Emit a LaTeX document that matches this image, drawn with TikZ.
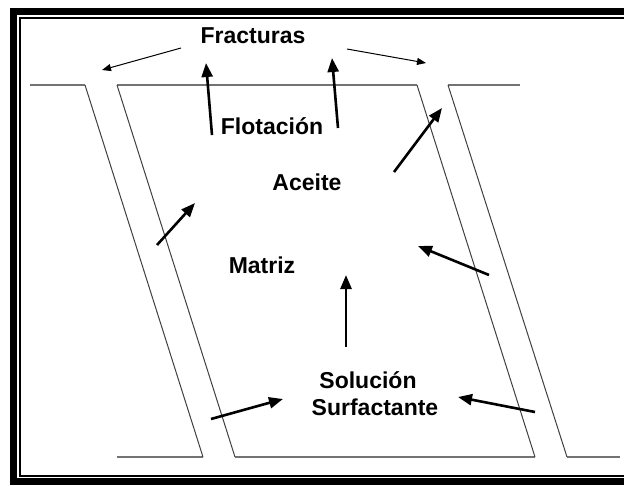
\documentclass[tikz,border=0pt]{standalone}
\usepackage{fontspec}
\setmainfont{Liberation Sans}
\usetikzlibrary{arrows.meta}
\begin{document}
\begin{tikzpicture}[x=1pt,y=-1pt,
  lbl/.style={font=\bfseries\fontsize{23}{27}\selectfont,inner sep=0pt,anchor=base},
  edge/.style={line width=2.6pt,black!55},
  wall/.style={line width=1pt,black!75},
  flow/.style={line width=2.6pt,-{Triangle[length=14pt,width=11pt]}},
  hint/.style={line width=1pt,-{Triangle[length=9pt,width=7pt]}}]
\useasboundingbox (0,0) rectangle (624,485);
% marco
\draw[line width=7.3pt] (640,11.65) -- (13.65,11.65) -- (13.65,481.3) -- (640,481.3);
\draw[line width=2pt] (640,17.8) -- (20,17.8) -- (20,475.8) -- (640,475.8);
% bloque de matriz y fracturas
\draw[edge] (30,85) -- (85,85);
\draw[edge] (117,85) -- (417,85);
\draw[edge] (448,85) -- (520,85);
\draw[edge] (117,457) -- (203,457);
\draw[edge] (235,457) -- (535,457);
\draw[edge] (567,457) -- (620,457);
\draw[wall] (85,85) -- (203,457);
\draw[wall] (117,85) -- (235,457);
\draw[wall] (417,85) -- (535,457);
\draw[wall] (448,85) -- (567,457);
% textos
\node[lbl] (frac) at (253,43.5) {Fracturas};
\node[lbl] (flot) at (272,134.5) {Flotación};
\node[lbl] (aceite) at (307,190.5) {Aceite};
\node[lbl] (matriz) at (262,273.5) {Matriz};
\node[lbl] (sol) at (368,388.5) {Solución};
\node[lbl] (surf) at (375,415.5) {Surfactante};
% extremos de flechas
\coordinate (fl1) at (181,48);  \coordinate (fl2) at (102,70);
\coordinate (fr1) at (347,49);  \coordinate (fr2) at (426,63);
\coordinate (ul1) at (212,135); \coordinate (ul2) at (206,63);
\coordinate (ur1) at (338,128); \coordinate (ur2) at (332,58);
\coordinate (dr1) at (394,172); \coordinate (dr2) at (442,108);
\coordinate (ml1) at (157,245); \coordinate (ml2) at (195,203);
\coordinate (mr1) at (489,275); \coordinate (mr2) at (418,246);
\coordinate (mc1) at (346,347); \coordinate (mc2) at (346,275);
\coordinate (bl1) at (211,419); \coordinate (bl2) at (283,399);
\coordinate (br1) at (535,412); \coordinate (br2) at (458,397);
% flechas
\draw[hint] (fl1) -- (fl2);
\draw[hint] (fr1) -- (fr2);
\draw[flow] (ul1) -- (ul2);
\draw[flow] (ur1) -- (ur2);
\draw[flow] (dr1) -- (dr2);
\draw[flow] (ml1) -- (ml2);
\draw[flow] (mr1) -- (mr2);
\draw[flow] (mc1) -- (mc2);
\draw[flow] (bl1) -- (bl2);
\draw[flow] (br1) -- (br2);
\end{tikzpicture}
\end{document}
